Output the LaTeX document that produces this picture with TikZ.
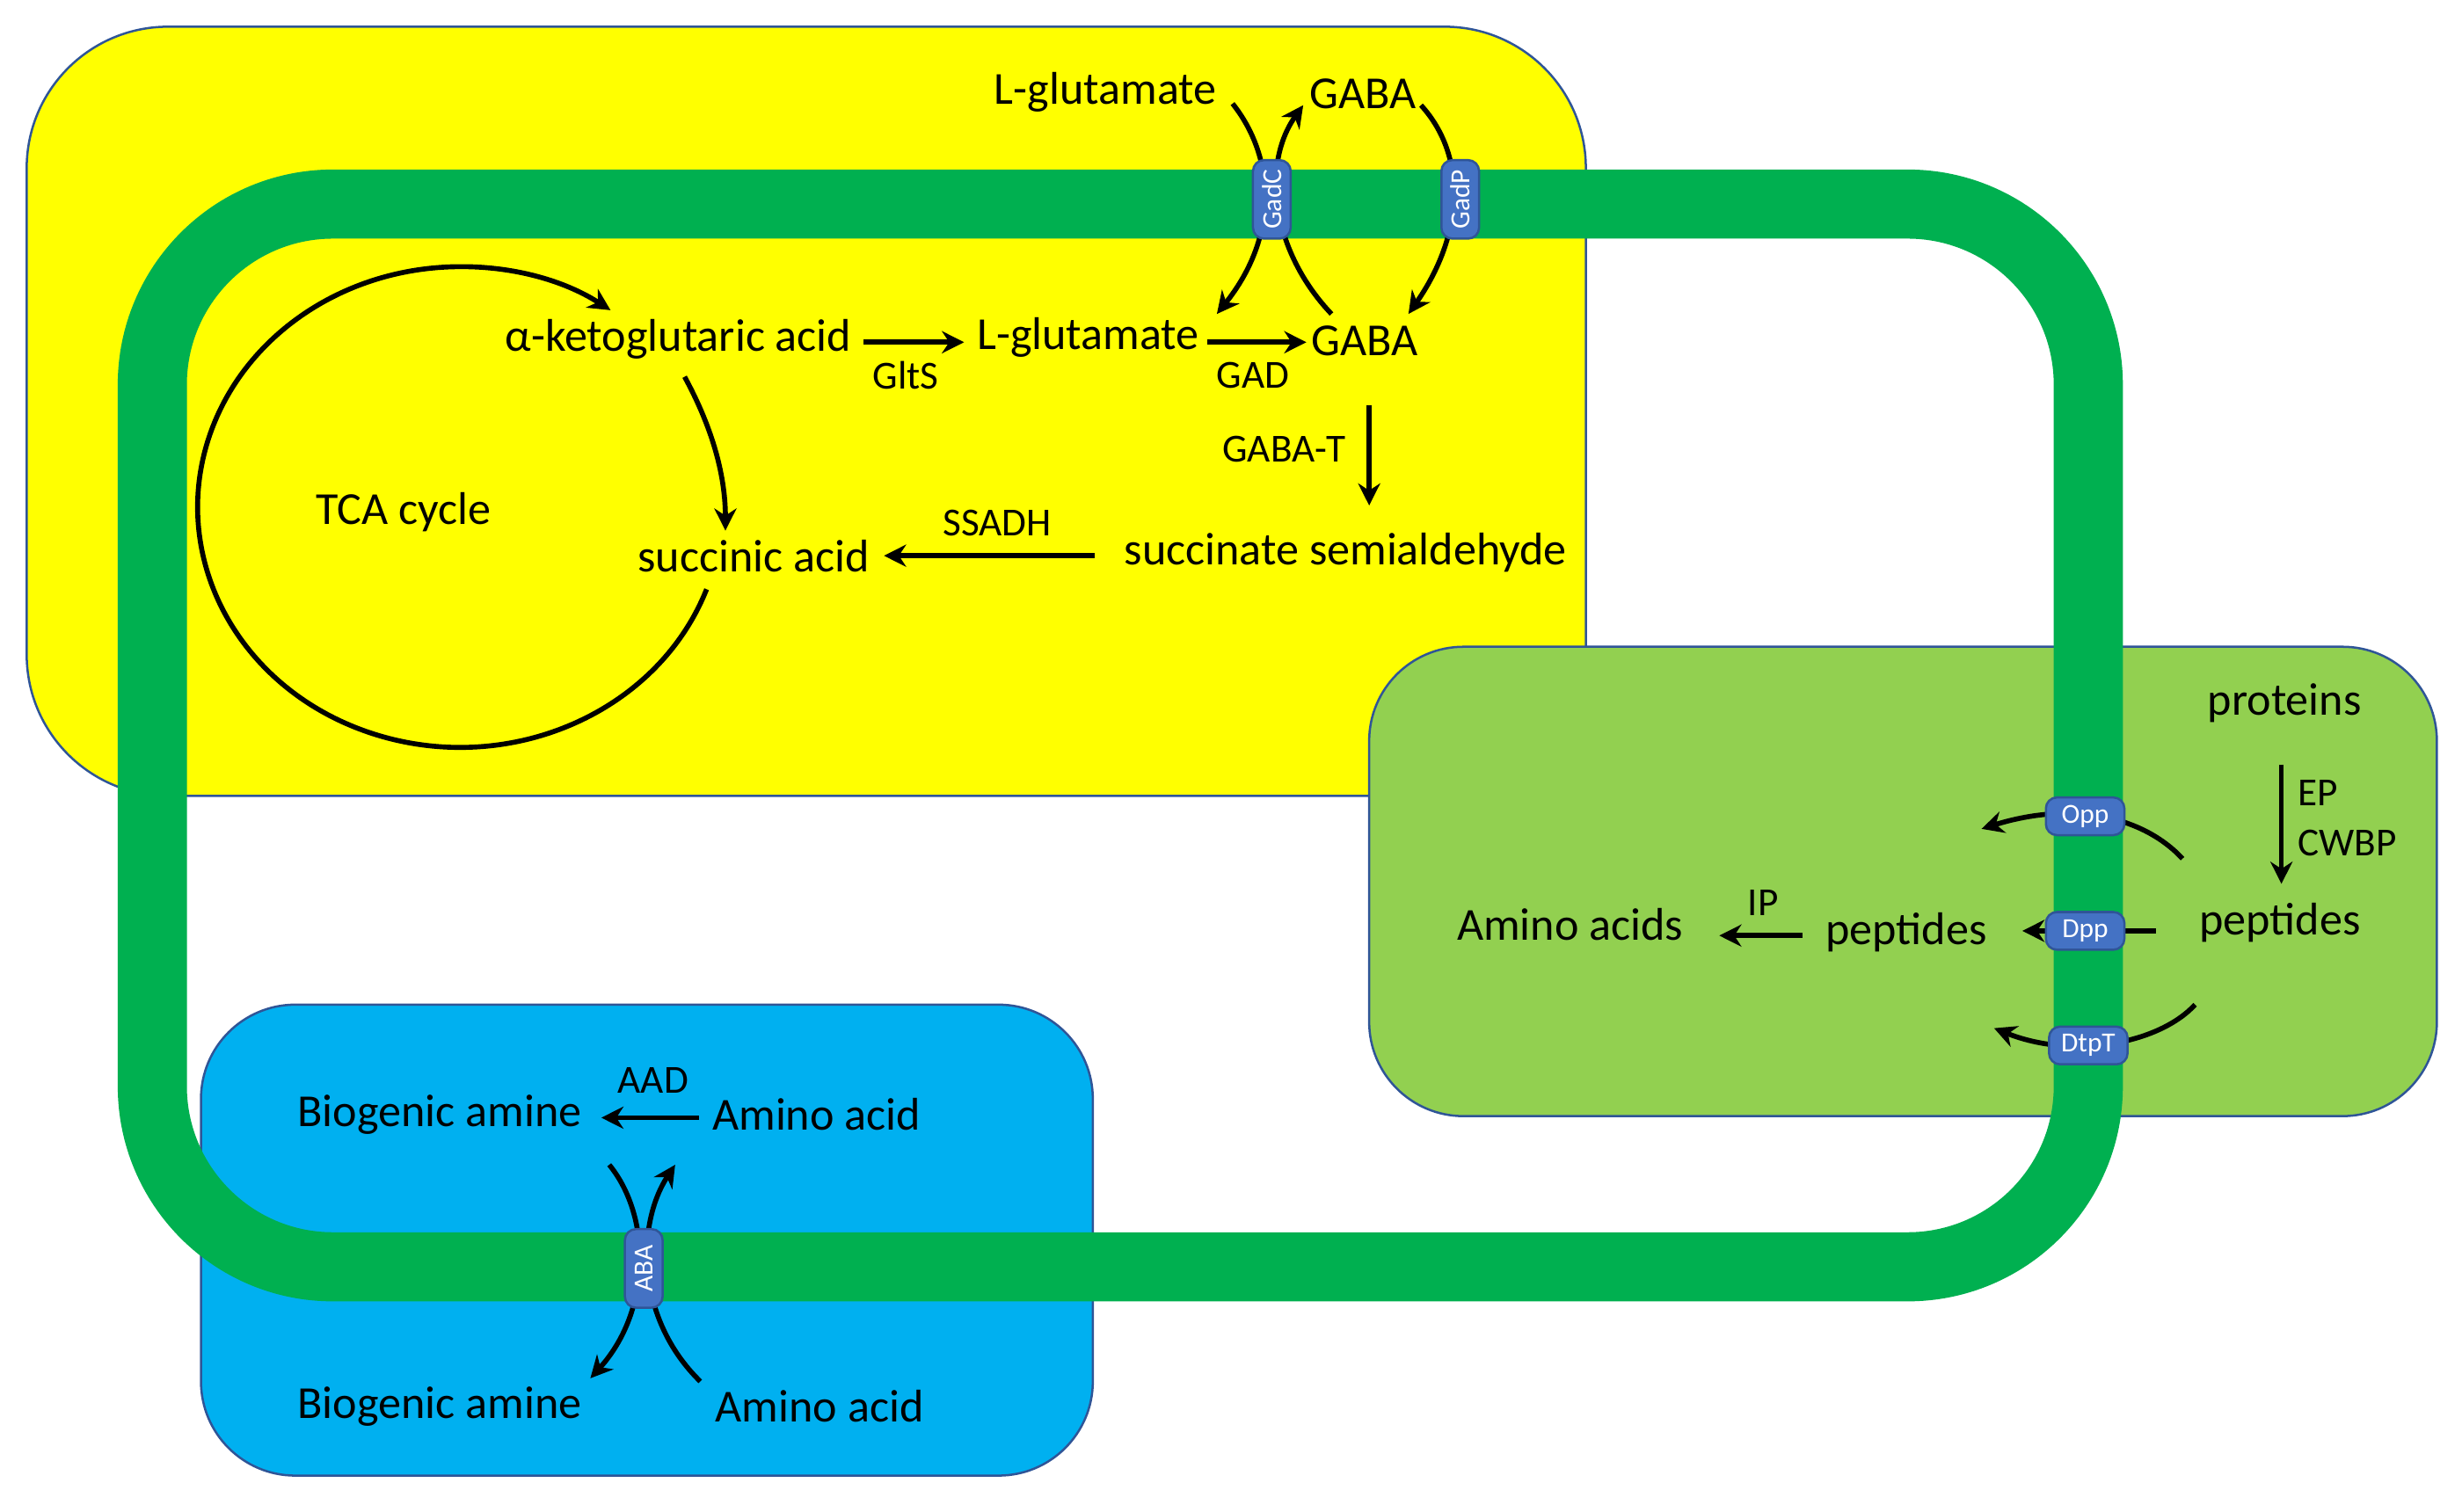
\documentclass[tikz,border=0pt]{standalone}
\usepackage{fontspec}
\setmainfont{Carlito}
\usetikzlibrary{arrows.meta}
\definecolor{yel}{HTML}{FFFF00}
\definecolor{lgr}{HTML}{92D050}
\definecolor{blu}{HTML}{00B0F0}
\definecolor{band}{HTML}{00B050}
\definecolor{tr}{HTML}{4472C4}
\definecolor{edge}{HTML}{2F5597}
\begin{document}
\begin{tikzpicture}[x=0.01cm,y=0.01cm,
  lab/.style={font=\fontsize{8.3}{9}\selectfont,inner sep=0pt},
  sm/.style={font=\fontsize{7.2}{8}\selectfont,inner sep=0pt},
  arr/.style={line width=0.9pt,-{Stealth[length=4pt,width=4pt]}},
  box/.style={draw=edge,line width=0.4pt},
  trv/.style={draw=edge,fill=tr,rounded corners=2pt,minimum width=0.24cm,minimum height=0.5cm,inner sep=0pt,text=white,font=\fontsize{5}{5}\selectfont},
  trh/.style={draw=edge,fill=tr,rounded corners=2pt,minimum width=0.5cm,minimum height=0.24cm,inner sep=0pt,text=white,font=\fontsize{5}{5}\selectfont}]
\useasboundingbox (0,0) rectangle (1568,-963);
% compartments
\draw[box,fill=yel,rounded corners=0.9cm] (17,-17) rectangle (1010,-507);
\draw[box,fill=lgr,rounded corners=0.6cm] (872,-412) rectangle (1552,-711);
\draw[box,fill=blu,rounded corners=0.6cm] (128,-640) rectangle (696,-940);
% membrane band
\draw[band,line width=0.44cm,rounded corners=1.15cm] (97,-130) rectangle (1330,-807);
% texts
\node[lab] (lglu1) at (704,-59) {L-glutamate};
\node[lab] (gaba1) at (868,-60) {GABA};
\node[lab] (akg) at (432,-216) {α-ketoglutaric acid};
\node[lab] (lglu2) at (693,-215) {L-glutamate};
\node[lab] (gaba2) at (869,-217) {GABA};
\node[sm] (glts) at (577,-239) {GltS};
\node[sm] (gad) at (798,-239) {GAD};
\node[sm] (gabat) at (818,-286) {GABA-T};
\node[lab] (ssa) at (857,-352) {succinate semialdehyde};
\node[sm] (ssadh) at (635,-333) {SSADH};
\node[lab] (succ) at (480,-354) {succinic acid};
\node[lab] (tca) at (257,-326) {TCA cycle};
\node[lab] (prot) at (1455,-448) {proteins};
\node[sm] (ep) at (1476,-505) {EP};
\node[sm] (cwbp) at (1495,-537) {CWBP};
\node[lab] (pep1) at (1452,-588) {peptides};
\node[lab] (pep2) at (1214,-594) {peptides};
\node[lab] (aas) at (1000,-589) {Amino acids};
\node[sm] (ip) at (1123,-575) {IP};
\node[sm] (aad) at (416,-688) {AAD};
\node[lab] (ba1) at (280,-710) {Biogenic amine};
\node[lab] (aa1) at (520,-710) {Amino acid};
\node[lab] (ba2) at (280,-896) {Biogenic amine};
\node[lab] (aa2) at (522,-896) {Amino acid};
% straight arrows
\draw[arr] (550,-218) -- (614,-218);
\draw[arr] (769,-218) -- (832,-218);
\draw[arr] (872,-258) -- (872,-322);
\draw[arr] (697,-354) -- (563,-354);
\draw[arr] (1148,-596) -- (1095,-596);
\draw[arr] (445,-712) -- (383,-712);
\draw[arr] (1453,-487) -- (1453,-563);
\draw[arr] (1373,-593) -- (1288,-593);
% TCA cycle
\draw[arr] (293,-323) ++(-20:1.67cm and 1.53cm) arc[start angle=-20,end angle=-305,x radius=1.67cm,y radius=1.53cm];
\draw[arr] (436,-240) .. controls (455,-275) and (462,-305) .. (462,-338);
% transport curves
\draw[arr] (785,-66) .. controls (812,-100) and (815,-150) .. (775,-200);
\draw[arr] (848,-200) .. controls (810,-160) and (803,-105) .. (830,-67);
\draw[arr] (905,-67) .. controls (935,-100) and (932,-150) .. (897,-200);
\draw[arr] (388,-742) .. controls (415,-775) and (415,-835) .. (376,-878);
\draw[arr] (446,-880) .. controls (405,-840) and (405,-780) .. (430,-742);
\draw[arr] (1390,-547) .. controls (1365,-520) and (1320,-510) .. (1262,-528);
\draw[arr] (1398,-640) .. controls (1375,-665) and (1320,-675) .. (1270,-655);
% transporters
\node[trv] (gadc) at (810,-127) {\rotatebox{90}{GadC}};
\node[trv] (gadp) at (930,-127) {\rotatebox{90}{GadP}};
\node[trv] (aba) at (410,-808) {\rotatebox{90}{ABA}};
\node[trh] (opp) at (1328,-520) {Opp};
\node[trh] (dpp) at (1328,-593) {Dpp};
\node[trh] (dtpt) at (1330,-666) {DtpT};
\end{tikzpicture}
\end{document}
